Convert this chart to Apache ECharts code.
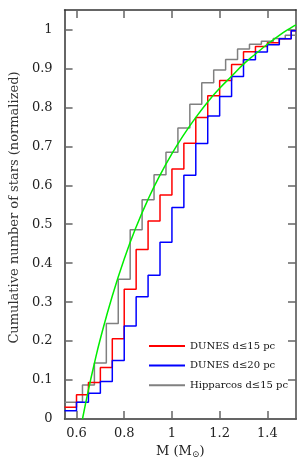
<!DOCTYPE html>
<html>
<head>
<meta charset="utf-8">
<script src="https://cdn.jsdelivr.net/npm/echarts@6/dist/echarts.min.js"></script>
<style>
html,body{margin:0;padding:0;background:#fff;}
#c{width:306px;height:467px;}
</style>
</head>
<body>
<div id="c"></div>
<script>
// Tick labels
var xTicks = [0.6, 0.8, 1.0, 1.2, 1.4];
var yTicks = [0, 0.1, 0.2, 0.3, 0.4, 0.5, 0.6, 0.7, 0.8, 0.9, 1.0];

// DUNES d<=15 pc (step levels, value holds until next mass)
var redM   = [0.55, 0.60, 0.65, 0.70, 0.75, 0.80, 0.85, 0.90, 0.95, 1.00, 1.05, 1.10, 1.15, 1.20, 1.25, 1.30, 1.35, 1.40, 1.45, 1.50, 1.52];
var redY   = [0.030, 0.062, 0.094, 0.132, 0.206, 0.333, 0.435, 0.508, 0.575, 0.642, 0.708, 0.774, 0.830, 0.869, 0.910, 0.943, 0.956, 0.966, 0.976, 0.997, 0.997];

// DUNES d<=20 pc
var blueM  = [0.55, 0.60, 0.65, 0.70, 0.75, 0.80, 0.85, 0.90, 0.95, 1.00, 1.05, 1.10, 1.15, 1.20, 1.25, 1.30, 1.35, 1.40, 1.45, 1.50, 1.52];
var blueY  = [0.021, 0.043, 0.066, 0.096, 0.150, 0.239, 0.314, 0.369, 0.454, 0.543, 0.626, 0.707, 0.778, 0.828, 0.879, 0.922, 0.942, 0.961, 0.976, 0.997, 0.997];

// Hipparcos d<=15 pc
var grayM  = [0.55, 0.625, 0.675, 0.725, 0.775, 0.825, 0.875, 0.925, 0.975, 1.025, 1.075, 1.125, 1.175, 1.225, 1.275, 1.325, 1.375, 1.425, 1.475, 1.52];
var grayY  = [0.043, 0.087, 0.144, 0.245, 0.359, 0.486, 0.563, 0.627, 0.685, 0.747, 0.808, 0.863, 0.896, 0.923, 0.950, 0.962, 0.970, 0.977, 0.985, 0.985];

// Green reference curve (read points)
var greenM = [0.625, 0.65, 0.675, 0.70, 0.75, 0.80, 0.85, 0.90, 0.95, 1.00, 1.05, 1.10, 1.15, 1.20, 1.25, 1.30, 1.35, 1.40, 1.45, 1.50, 1.52];
var greenY = [0.0, 0.075, 0.143, 0.206, 0.316, 0.411, 0.493, 0.564, 0.626, 0.681, 0.730, 0.774, 0.814, 0.849, 0.880, 0.911, 0.937, 0.962, 0.985, 1.005, 1.012];

var legendNames = ['DUNES d\u226415 pc', 'DUNES d\u226420 pc', 'Hipparcos d\u226415 pc'];

function zip(a, b) { return a.map(function (v, i) { return [v, b[i]]; }); }

var FONT = 'DejaVu Serif';
var chart = echarts.init(document.getElementById('c'), null, {renderer: 'canvas'});

var axisLineStyle = {color: '#333', width: 1.5};
var tickStyle = {color: '#666', width: 1.5};

chart.setOption({
  animation: false,
  backgroundColor: '#fff',
  grid: {left: 58, right: 10, top: 10, bottom: 48},
  legend: {
    orient: 'vertical',
    left: 144, top: 335,
    itemWidth: 36, itemHeight: 2, itemGap: 7.6,
    icon: 'rect',
    textStyle: {fontFamily: FONT, fontSize: 10, color: '#111', lineHeight: 12},
    data: [
      {name: legendNames[0], itemStyle: {color: '#ff0000'}},
      {name: legendNames[1], itemStyle: {color: '#0000ff'}},
      {name: legendNames[2], itemStyle: {color: '#808080'}}
    ]
  },
  xAxis: [{
    type: 'value', min: 0.55, max: 1.52,
    name: 'M (M{sub|\u2299})', nameLocation: 'middle', nameGap: 24,
    nameTextStyle: {fontFamily: FONT, fontSize: 13, color: '#222',
      rich: {sub: {fontFamily: FONT, fontSize: 9, color: '#222', verticalAlign: 'bottom', padding: [6, 0, 0, 0]}}},
    axisLine: {show: true, lineStyle: axisLineStyle},
    axisTick: {show: true, inside: true, length: 8, lineStyle: tickStyle, customValues: xTicks},
    axisLabel: {fontFamily: FONT, fontSize: 13, color: '#222', margin: 8, customValues: xTicks,
      formatter: function (v) { return String(Math.round(v * 10) / 10); }},
    splitLine: {show: false}
  }, {
    type: 'value', min: 0.55, max: 1.52, position: 'top',
    axisLine: {show: true, onZero: false, lineStyle: axisLineStyle},
    axisTick: {show: true, inside: true, length: 8, lineStyle: tickStyle, customValues: xTicks},
    axisLabel: {show: false},
    splitLine: {show: false}
  }],
  yAxis: [{
    type: 'value', min: 0, max: 1.05,
    name: 'Cumulative number of stars (normalized)', nameLocation: 'middle', nameGap: 37,
    nameTextStyle: {fontFamily: FONT, fontSize: 13, color: '#333', padding: [0, 0, 0, 14]},
    axisLine: {show: true, lineStyle: axisLineStyle},
    axisTick: {show: true, inside: true, length: 8, lineStyle: tickStyle, customValues: yTicks},
    axisLabel: {fontFamily: FONT, fontSize: 13, color: '#222', margin: 12, customValues: yTicks,
      formatter: function (v) { return String(Math.round(v * 10) / 10); }},
    splitLine: {show: false}
  }, {
    type: 'value', min: 0, max: 1.05, position: 'right',
    axisLine: {show: true, onZero: false, lineStyle: {color: '#777', width: 2}},
    axisTick: {show: true, inside: true, length: 8, lineStyle: tickStyle, customValues: yTicks},
    axisLabel: {show: false},
    splitLine: {show: false}
  }],
  series: [
    {name: legendNames[2], type: 'line', step: 'end', data: zip(grayM, grayY), showSymbol: false,
      lineStyle: {color: '#808080', width: 1.5}, itemStyle: {color: '#808080'}, z: 2},
    {name: legendNames[0], type: 'line', step: 'end', data: zip(redM, redY), showSymbol: false,
      lineStyle: {color: '#ff0000', width: 1.5}, itemStyle: {color: '#ff0000'}, z: 3},
    {name: legendNames[1], type: 'line', step: 'end', data: zip(blueM, blueY), showSymbol: false,
      lineStyle: {color: '#0000ff', width: 1.5}, itemStyle: {color: '#0000ff'}, z: 4},
    {name: 'fit', type: 'line', smooth: true, data: zip(greenM, greenY), showSymbol: false,
      lineStyle: {color: '#00ee00', width: 1.5}, z: 5}
  ]
});
</script>
</body>
</html>
